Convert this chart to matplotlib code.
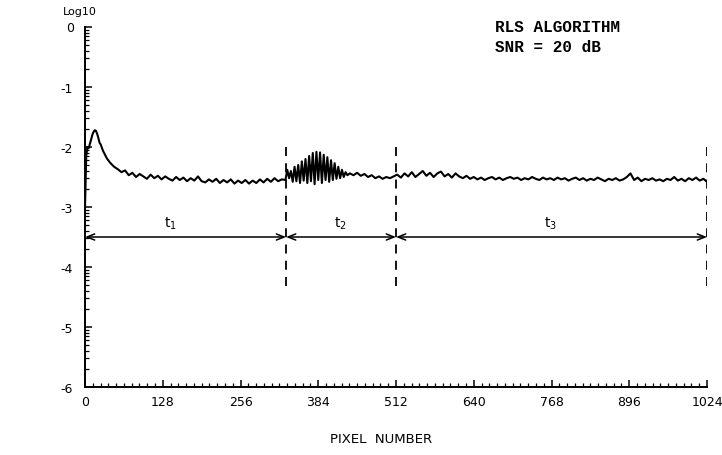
import numpy as np
import matplotlib.pyplot as plt
from matplotlib.ticker import FixedLocator, MultipleLocator

# error curve (log10), in four pieces
peak_x = [0, 2, 4, 6, 8, 10, 12, 14, 16, 18, 20, 22, 24, 26, 28, 30]
peak_y = [-3.02, -2.15, -2.0, -2.02, -1.95, -1.88, -1.8, -1.75, -1.72, -1.73,
          -1.78, -1.85, -1.93, -1.96, -2.02, -2.07]

t1_y = [-2.19, -2.27, -2.33, -2.37, -2.42, -2.39, -2.47, -2.43, -2.5, -2.45,
        -2.49, -2.53, -2.46, -2.52, -2.48, -2.54, -2.49, -2.53, -2.56, -2.5,
        -2.55, -2.51, -2.57, -2.52, -2.56, -2.49, -2.57, -2.59, -2.54, -2.58,
        -2.53, -2.6, -2.55, -2.59, -2.54, -2.61, -2.56, -2.6, -2.55, -2.61,
        -2.56, -2.6, -2.54, -2.59, -2.53, -2.58, -2.52, -2.57, -2.54]

t2_y = [-2.55, -2.38, -2.52, -2.4, -2.58, -2.33, -2.57, -2.3, -2.6, -2.24,
        -2.56, -2.2, -2.6, -2.15, -2.57, -2.1, -2.62, -2.08, -2.55, -2.09,
        -2.6, -2.13, -2.55, -2.17, -2.58, -2.22, -2.55, -2.27, -2.53, -2.33,
        -2.52, -2.38, -2.5, -2.42, -2.47]

t3_y = [-2.44, -2.47, -2.43, -2.48, -2.45, -2.5, -2.47, -2.52, -2.49, -2.53,
        -2.5, -2.52, -2.49, -2.46, -2.51, -2.44, -2.49, -2.42, -2.5, -2.45,
        -2.4, -2.48, -2.43, -2.5, -2.44, -2.41, -2.49, -2.45, -2.51, -2.44,
        -2.49, -2.52, -2.48, -2.53, -2.5, -2.54, -2.51, -2.55, -2.52, -2.5,
        -2.54, -2.51, -2.55, -2.52, -2.5, -2.53, -2.51, -2.55, -2.52, -2.54,
        -2.5, -2.53, -2.55, -2.51, -2.54, -2.52, -2.55, -2.51, -2.54, -2.52,
        -2.56, -2.53, -2.51, -2.55, -2.52, -2.56, -2.53, -2.55, -2.51, -2.54,
        -2.57, -2.53, -2.55, -2.52, -2.56, -2.54, -2.5, -2.44, -2.55, -2.51,
        -2.57, -2.53, -2.55, -2.52, -2.56, -2.54, -2.57, -2.53, -2.55, -2.5,
        -2.56, -2.53, -2.57, -2.52, -2.55, -2.51, -2.56, -2.53, -2.58]

# sample positions (pixel index) of each piece
t1_x = 36 + 6 * np.arange(len(t1_y))
t2_x = 330 + 3 * np.arange(len(t2_y))
t3_x = 436 + 6 * np.arange(len(t3_y))

pixel = np.concatenate([peak_x, t1_x, t2_x, t3_x])
err = np.concatenate([peak_y, t1_y, t2_y, t3_y])

bounds = [0, 331, 512, 1024]
seg_labels = [r'$\mathregular{t_1}$', r'$\mathregular{t_2}$', r'$\mathregular{t_3}$']
seg_label_x = [140, 420, 766]

xticks = [0, 128, 256, 384, 512, 640, 768, 896, 1024]
yticks = [0, -1, -2, -3, -4, -5, -6]

fig = plt.figure(figsize=(7.22, 4.56), dpi=100)
ax = fig.add_axes([85 / 722, 1 - 388 / 456, 622 / 722, 360 / 456])

ax.plot(pixel, err, color='black', lw=1.5)

# dashed boundaries and interval arrows
for b in bounds[1:]:
    ax.plot([b, b], [-2.0, -4.35], color='black', lw=1.3, dashes=(5, 4))
for i in range(3):
    ax.annotate('', xy=(bounds[i], -3.5), xytext=(bounds[i + 1], -3.5),
                arrowprops=dict(arrowstyle='<->,head_length=0.55,head_width=0.22',
                                color='black', lw=1.1, shrinkA=0, shrinkB=0))
    ax.text(seg_label_x[i], -3.27, seg_labels[i], ha='center', va='center',
            fontsize=10)

ax.set_xlim(0, 1024)
ax.set_ylim(-6, 0)
for s in ['top', 'right']:
    ax.spines[s].set_visible(False)
for s in ['left', 'bottom']:
    ax.spines[s].set_linewidth(1.4)

ax.set_xticks(xticks)
ax.xaxis.set_minor_locator(MultipleLocator(12.8))
ax.set_yticks(yticks)
ax.set_yticklabels(['', '-1', '-2', '-3', '-4', '-5', '-6'])
minor_y = [d + np.log10(k / 10) for d in range(0, -6, -1) for k in range(2, 10)]
ax.yaxis.set_minor_locator(FixedLocator(minor_y))
ax.tick_params(which='major', direction='in', length=5, width=1.1, labelsize=9, pad=9)
ax.tick_params(which='minor', direction='in', length=3, width=0.9)
ax.tick_params(axis='x', pad=6)

fig.text(74 / 722, 1 - 28 / 456, '0', ha='right', va='center', fontsize=9)
fig.text(80 / 722, 1 - 12 / 456, 'Log10', ha='center', va='center', fontsize=8)
fig.text(381 / 722, 1 - 440 / 456, 'PIXEL  NUMBER', ha='center',
         va='center', fontsize=9.5)

fig.text(495 / 722, 1 - 27 / 456, 'RLS ALGORITHM', ha='left', va='center',
         fontsize=11.5, family='Liberation Mono', weight='bold')
fig.text(495 / 722, 1 - 47 / 456, 'SNR = 20 dB', ha='left', va='center',
         fontsize=11.5, family='Liberation Mono', weight='bold')

fig.savefig('out.png', dpi=100)
